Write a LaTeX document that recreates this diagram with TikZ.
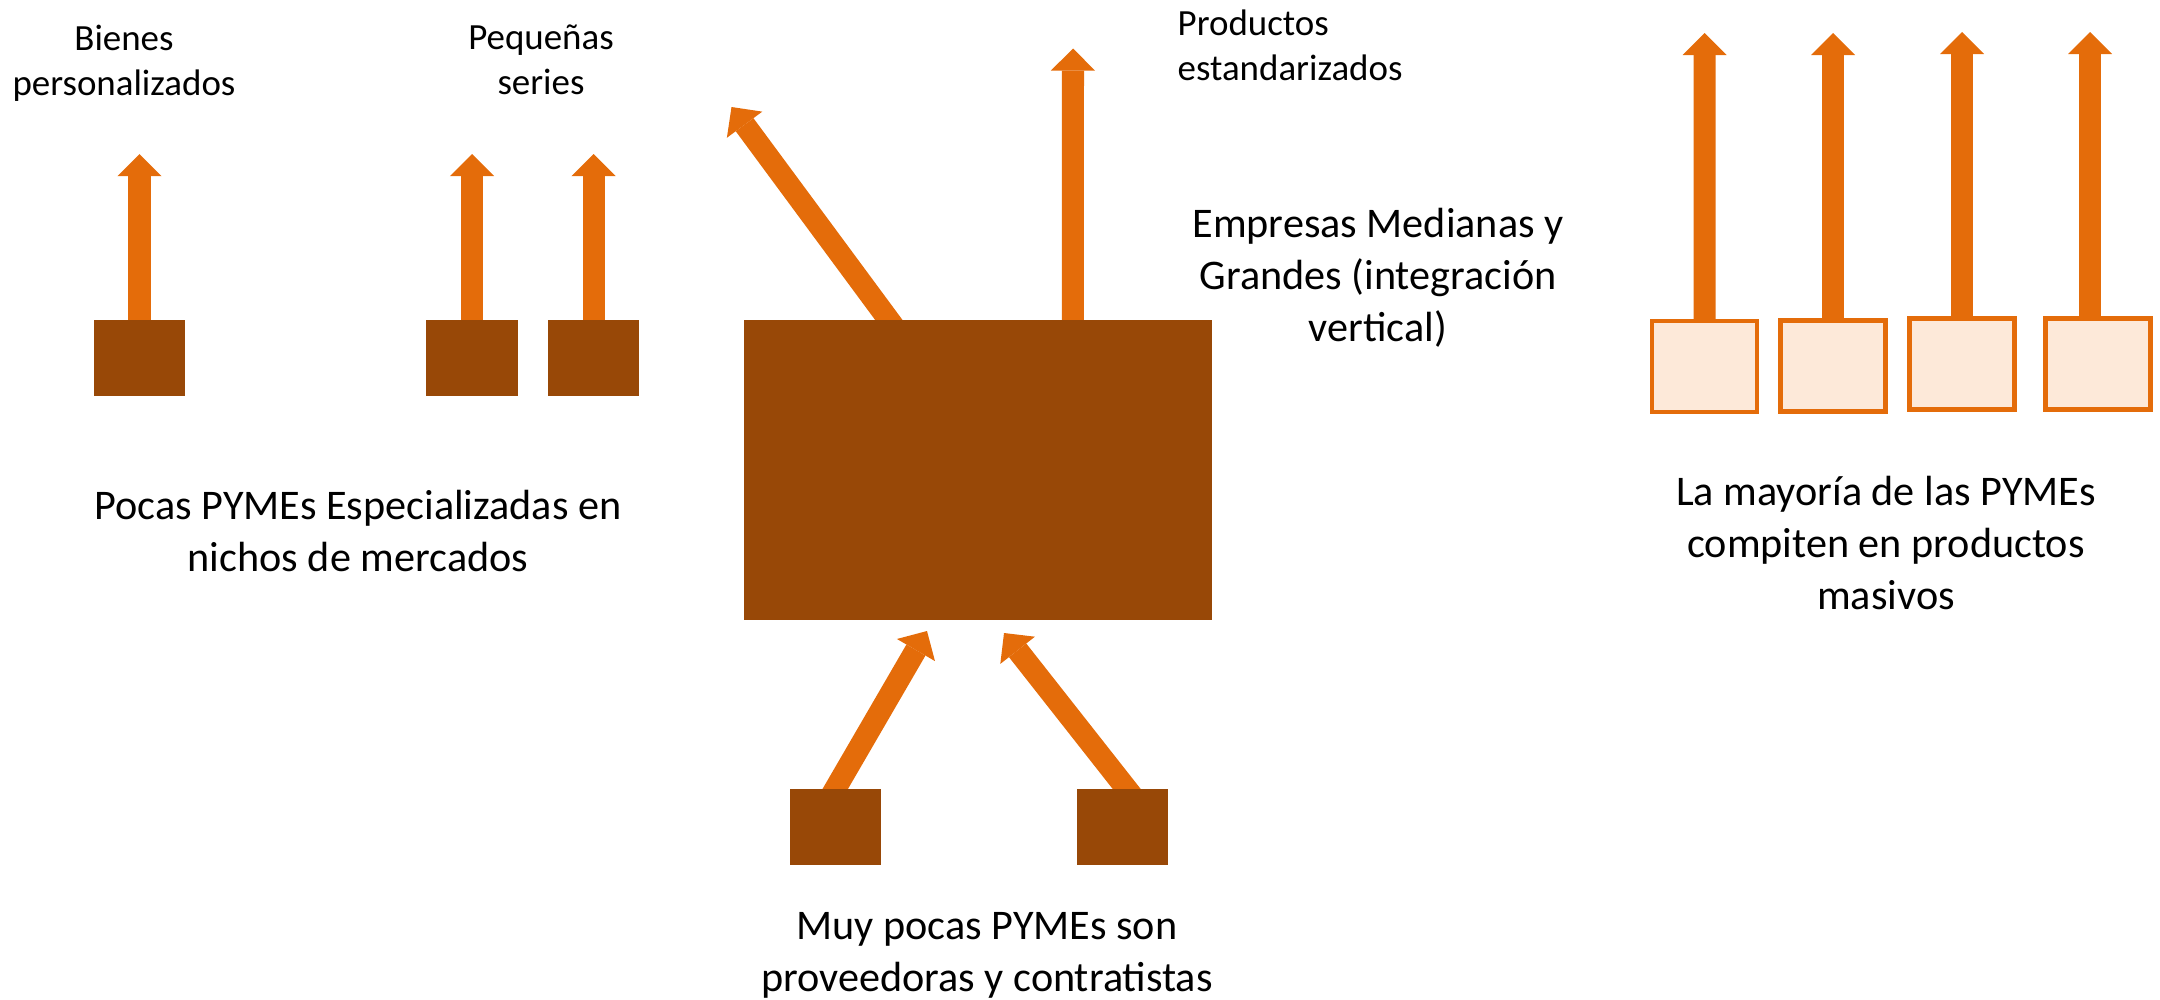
\documentclass[tikz,border=0pt]{standalone}
\usepackage{fontspec}
\setmainfont{Carlito}
\usetikzlibrary{arrows.meta,calc}
\definecolor{brownbox}{HTML}{984807}
\definecolor{orangearr}{HTML}{E46C0A}
\definecolor{peach}{HTML}{FDE9D9}
\pgfdeclarelayer{bg}
\pgfsetlayers{bg,main}
\begin{document}
\begin{tikzpicture}[x=0.01cm,y=-0.01cm,
  darkbox/.style={fill=brownbox, draw=none, minimum width=0.91cm, minimum height=0.76cm, inner sep=0pt, outer sep=0pt},
  bigbox/.style={fill=brownbox, draw=none, minimum width=4.68cm, minimum height=3.00cm, inner sep=0pt, outer sep=0pt},
  lightbox/.style={fill=peach, draw=orangearr, line width=0.045cm, minimum width=1.045cm, minimum height=0.905cm, inner sep=0pt},
  fatarrow/.style={draw=orangearr, line width=0.22cm, line cap=butt,
    -{Triangle[width=0.44cm,length=0.22cm,line width=0pt]}},
  smalltxt/.style={font=\fontsize{10.5}{12.8}\selectfont, align=center, inner sep=0pt},
  bigtxt/.style={font=\fontsize{12}{14.8}\selectfont, align=center, inner sep=0pt}]
\useasboundingbox (0,0) rectangle (2160,1000);

% boxes
\node[darkbox] (bienes) at (139.5,358) {};
\node[darkbox] (peqA) at (472,358) {};
\node[darkbox] (peqB) at (593.5,358) {};
\node[bigbox] (big) at (978,470) {};
\node[darkbox] (provA) at (835.5,827) {};
\node[darkbox] (provB) at (1122.5,827) {};
\node[lightbox] (masA) at (1704.5,366.5) {};
\node[lightbox] (masB) at (1833,366) {};
\node[lightbox] (masC) at (1962,364) {};
\node[lightbox] (masD) at (2098,364) {};

% arrow tips
\coordinate (tipBienes) at (139.5,154);
\coordinate (tipPeqA) at (472,154);
\coordinate (tipPeqB) at (593.5,154);
\coordinate (tipDiag) at (731.5,107);
\coordinate (tipStd) at (1073,48.5);
\coordinate (tipProvA) at (927,631);
\coordinate (tipProvB) at (1004,633);
\coordinate (tipMasA) at (1704.6,33);
\coordinate (tipMasB) at (1833,33);
\coordinate (tipMasC) at (1962,32);
\coordinate (tipMasD) at (2090,32);

\begin{pgfonlayer}{bg}
\draw[fatarrow] (bienes.north) -- (tipBienes);
\draw[fatarrow] (peqA.north) -- (tipPeqA);
\draw[fatarrow] (peqB.north) -- (tipPeqB);
\draw[fatarrow] ($(big.north west)+(156,15)$) -- (tipDiag);
\draw[fatarrow] ($(big.north west)+(329,0)$) -- (tipStd);
\draw[fatarrow] ($(provA.north)+(-9,15)$) -- (tipProvA);
\draw[fatarrow] ($(provB.north)+(16,15)$) -- (tipProvB);
\draw[fatarrow] ($(masA.north)+(0,5)$) -- (tipMasA);
\draw[fatarrow] ($(masB.north)+(0,5)$) -- (tipMasB);
\draw[fatarrow] ($(masC.north)+(0,5)$) -- (tipMasC);
\draw[fatarrow] ($(masD.north)+(-8,5)$) -- (tipMasD);
\end{pgfonlayer}

% texts
\node[smalltxt] (tBienes) at (124,63) {Bienes\\personalizados};
\node[smalltxt] (tPeq) at (541,60) {Pequeñas\\series};
\node[smalltxt, align=left, anchor=west] (tProd) at (1177,45) {Productos\\estandarizados};
\node[bigtxt] (tPocas) at (358,531) {Pocas PYMEs Especializadas en\\nichos de mercados};
\node[bigtxt] (tEmp) at (1378,278) {Empresas Medianas y\\Grandes (integración\\vertical)};
\node[bigtxt] (tMay) at (1886,543) {La mayoría de las PYMEs\\compiten en productos\\masivos};
\node[bigtxt] (tMuy) at (987,955) {Muy pocas PYMEs son\\proveedoras y contratistas};
\end{tikzpicture}
\end{document}
